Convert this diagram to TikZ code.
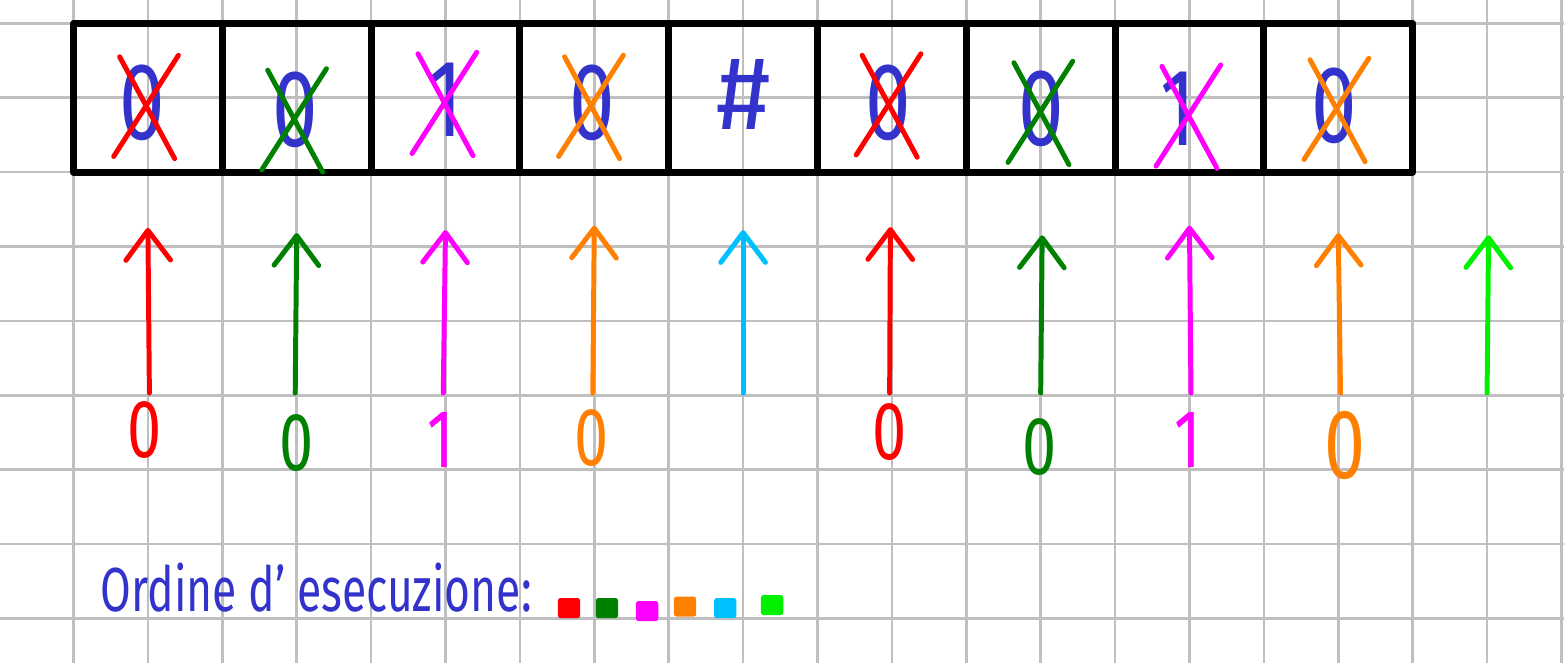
\documentclass[tikz,border=0pt]{standalone}
\usepackage{fontspec}
\setmainfont{Fira Sans}
\usetikzlibrary{arrows.meta,calc}
\definecolor{hblue}{RGB}{51,51,204}
\definecolor{hred}{RGB}{255,0,0}
\definecolor{hgreen}{RGB}{0,128,0}
\definecolor{hmag}{RGB}{255,0,255}
\definecolor{horange}{RGB}{255,128,0}
\definecolor{hcyan}{RGB}{0,191,255}
\definecolor{hlime}{RGB}{0,240,0}
\newcommand\tapeX[2]{%
  \draw[xstroke,#2] ($(#1)+(-0.37,0.62)$) -- ($(#1)+(0.37,-0.75)$);
  \draw[xstroke,#2] ($(#1)+(0.42,0.64)$) -- ($(#1)+(-0.45,-0.72)$);}
\newcommand\narrow[1]{\scalebox{0.78}[1.05]{#1}}
\begin{document}
\begin{tikzpicture}[
  gridline/.style={draw=black!25, line width=1pt},
  cellbox/.style={draw=black, line width=2.7pt, minimum width=2cm, minimum height=2cm, inner sep=0pt, line join=round},
  sym/.style={text=hblue, font=\fontsize{40}{40}\selectfont, inner sep=0pt},
  xstroke/.style={line width=1.9pt, line cap=round},
  arr/.style={line width=1.9pt, line cap=round, line join=round, -{Straight Barb[length=4mm,width=6mm,round]}},
  lab/.style={font=\fontsize{30}{30}\selectfont, inner sep=0pt},
  sq/.style={minimum width=0.3cm, minimum height=0.27cm, inner sep=0pt, rounded corners=1pt}
]
\useasboundingbox (-0.988,-8.598) rectangle (20.034,0.313);
\draw[gridline] (-0.988,-8.598) grid (20.034,0.313);

% tape cells
\foreach \i in {1,...,9} \node[cellbox] (c\i) at ({2*\i-1},-1) {};

% tape symbols
\node[sym] (s1) at (0.93,-1.07) {\narrow{0}};
\node[sym] (s2) at (2.98,-1.17) {\narrow{0}};
\node[sym] (s3) at (5.0,-1.03) {\narrow{1}};
\node[sym] (s4) at (6.97,-1.07) {\narrow{0}};
\node[sym] (s5) at (9.0,-0.96) {\#};
\node[sym] (s6) at (10.95,-1.07) {\narrow{0}};
\node[sym] (s7) at (13.01,-1.15) {\narrow{0}};
\node[sym] (s8) at (14.85,-1.15) {\narrow{1}};
\node[sym] (s9) at (16.94,-1.11) {\narrow{0}};

% cross-outs
\coordinate (x1) at (0.99,-1.07);
\coordinate (x2) at (2.98,-1.25);
\coordinate (x3) at (5.0,-1.03);
\coordinate (x4) at (6.97,-1.07);
\coordinate (x6) at (10.97,-1.05);
\coordinate (x7) at (13.01,-1.15);
\coordinate (x8) at (15.0,-1.2);
\coordinate (x9) at (16.99,-1.11);
\tapeX{x1}{hred}
\tapeX{x2}{hgreen}
\tapeX{x3}{hmag}
\tapeX{x4}{horange}
\tapeX{x6}{hred}
\tapeX{x7}{hgreen}
\tapeX{x8}{hmag}
\tapeX{x9}{horange}

% head arrows
\coordinate (b1) at (1.02,-4.97);  \coordinate (t1) at (1.0,-2.75);
\coordinate (b2) at (2.98,-4.97);  \coordinate (t2) at (3.0,-2.82);
\coordinate (b3) at (4.97,-4.97);  \coordinate (t3) at (5.0,-2.78);
\coordinate (b4) at (6.98,-4.97);  \coordinate (t4) at (7.0,-2.72);
\coordinate (b5) at (9.0,-4.97);   \coordinate (t5) at (9.0,-2.78);
\coordinate (b6) at (10.97,-4.97); \coordinate (t6) at (10.98,-2.74);
\coordinate (b7) at (13.0,-4.97);  \coordinate (t7) at (13.02,-2.85);
\coordinate (b8) at (15.02,-4.97); \coordinate (t8) at (15.0,-2.72);
\coordinate (b9) at (17.03,-4.97); \coordinate (t9) at (17.0,-2.82);
\coordinate (b10) at (19.0,-4.97); \coordinate (t10) at (19.02,-2.85);
\draw[arr,hred]    (b1) -- (t1);
\draw[arr,hgreen]  (b2) -- (t2);
\draw[arr,hmag]    (b3) -- (t3);
\draw[arr,horange] (b4) -- (t4);
\draw[arr,hcyan]   (b5) -- (t5);
\draw[arr,hred]    (b6) -- (t6);
\draw[arr,hgreen]  (b7) -- (t7);
\draw[arr,hmag]    (b8) -- (t8);
\draw[arr,horange] (b9) -- (t9);
\draw[arr,hlime]   (b10) -- (t10);

% symbols written by the head
\node[lab,text=hred]    (l1) at (0.96,-5.47) {\narrow{0}};
\node[lab,text=hgreen]  (l2) at (3.0,-5.64) {\narrow{0}};
\node[lab,text=hmag]    (l3) at (4.93,-5.6) {\narrow{1}};
\node[lab,text=horange] (l4) at (6.97,-5.57) {\narrow{0}};
\node[lab,text=hred]    (l6) at (10.97,-5.49) {\narrow{0}};
\node[lab,text=hgreen]  (l7) at (12.99,-5.69) {\narrow{0}};
\node[lab,text=hmag]    (l8) at (14.98,-5.6) {\narrow{1}};
\node[lab,text=horange,font=\fontsize{36}{36}\selectfont] (l9) at (17.09,-5.67) {\narrow{0}};

% execution order
\node[anchor=base west, text=hblue, font=\fontsize{17}{17}\selectfont, inner sep=0pt] (title) at (0.36,-7.91) {\scalebox{1}[1.4]{Ordine d' esecuzione:}};
\node[sq,fill=hred]    (q1) at (6.66,-7.86) {};
\node[sq,fill=hgreen]  (q2) at (7.17,-7.86) {};
\node[sq,fill=hmag]    (q3) at (7.71,-7.90) {};
\node[sq,fill=horange] (q4) at (8.22,-7.84) {};
\node[sq,fill=hcyan]   (q5) at (8.76,-7.86) {};
\node[sq,fill=hlime]   (q6) at (9.39,-7.82) {};
\end{tikzpicture}
\end{document}
